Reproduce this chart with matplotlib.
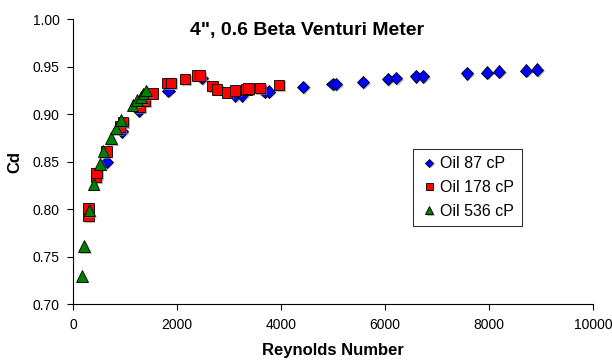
"""Discharge coefficient vs. Reynolds number for a 4-inch venturi meter."""

import matplotlib

matplotlib.use("Agg")
import matplotlib.pyplot as plt
import matplotlib.patheffects as pe

# Oil 87 cP (blue diamonds)
re_87 = [640, 930, 1260, 1830, 2470, 3110, 3240, 3680, 3760, 4420, 4990,
         5050, 5570, 6050, 6210, 6590, 6730, 7570, 7960, 8190, 8710, 8920]
cd_87 = [0.850, 0.882, 0.904, 0.925, 0.938, 0.920, 0.920, 0.924, 0.924,
         0.929, 0.932, 0.932, 0.934, 0.937, 0.938, 0.940, 0.940, 0.943,
         0.944, 0.945, 0.946, 0.947]

# Oil 178 cP (red squares)
re_178 = [290, 290, 440, 450, 640, 900, 960, 1280, 1380, 1520, 1810, 1880,
          2150, 2380, 2440, 2680, 2760, 2960, 3110, 3330, 3370, 3590, 3960]
cd_178 = [0.793, 0.801, 0.834, 0.838, 0.861, 0.887, 0.892, 0.908, 0.914,
          0.922, 0.933, 0.933, 0.937, 0.941, 0.941, 0.930, 0.926, 0.923,
          0.925, 0.926, 0.927, 0.928, 0.931]

# Oil 536 cP (green triangles)
re_536 = [160, 210, 310, 390, 520, 580, 730, 820, 920, 1140, 1220, 1300,
          1350, 1400]
cd_536 = [0.730, 0.761, 0.799, 0.827, 0.848, 0.861, 0.875, 0.885, 0.894,
          0.910, 0.915, 0.918, 0.922, 0.925]

x_ticks = [0, 2000, 4000, 6000, 8000, 10000]
y_ticks = [0.70, 0.75, 0.80, 0.85, 0.90, 0.95, 1.00]

plt.rcParams["font.family"] = ["Liberation Sans", "DejaVu Sans"]

fig = plt.figure(figsize=(6.12, 3.61), dpi=100)
ax = fig.add_axes([0.1198, 0.157, 0.8492, 0.7895])

shadow = [pe.SimplePatchShadow(offset=(1.2, -1.2), shadow_rgbFace="#888888",
                               alpha=0.6), pe.Normal()]

series = [
    (re_87, cd_87, "D", "#0000ff", 6.3, "Oil 87 cP"),
    (re_178, cd_178, "s", "#ff0000", 7.5, "Oil 178 cP"),
    (re_536, cd_536, "^", "#008000", 8.5, "Oil 536 cP"),
]
for x, y, marker, color, size, label in series:
    ax.plot(x, y, linestyle="none", marker=marker, markersize=size,
            markerfacecolor=color, markeredgecolor="black",
            markeredgewidth=0.6, label=label, path_effects=shadow)

ax.set_xlim(0, 10000)
ax.set_ylim(0.70, 1.00)
ax.set_xticks(x_ticks)
ax.set_yticks(y_ticks)
ax.set_yticklabels([f"{v:.2f}" for v in y_ticks])
ax.tick_params(direction="out", length=4, width=0.8, labelsize=10,
               colors="black", pad=6)
for side in ("top", "right"):
    ax.spines[side].set_visible(False)
for side in ("left", "bottom"):
    ax.spines[side].set_linewidth(0.8)

ax.set_xlabel("Reynolds Number", fontsize=12, fontweight="bold", labelpad=8)
ax.set_ylabel("Cd", fontsize=12, fontweight="bold", labelpad=7)
ax.text(0.45, 0.96, '4", 0.6 Beta Venturi Meter', transform=ax.transAxes,
        ha="center", va="center", fontsize=14, fontweight="bold")

leg = ax.legend(loc="upper left", bbox_to_anchor=(0.654, 0.545),
                fontsize=11.5, frameon=True, fancybox=False, borderpad=0.45,
                handletextpad=0.15, handlelength=1.1, labelspacing=0.55,
                markerscale=0.65, borderaxespad=0)
leg.get_frame().set_edgecolor("black")
leg.get_frame().set_linewidth(0.8)

fig.savefig("out.png", dpi=100)
